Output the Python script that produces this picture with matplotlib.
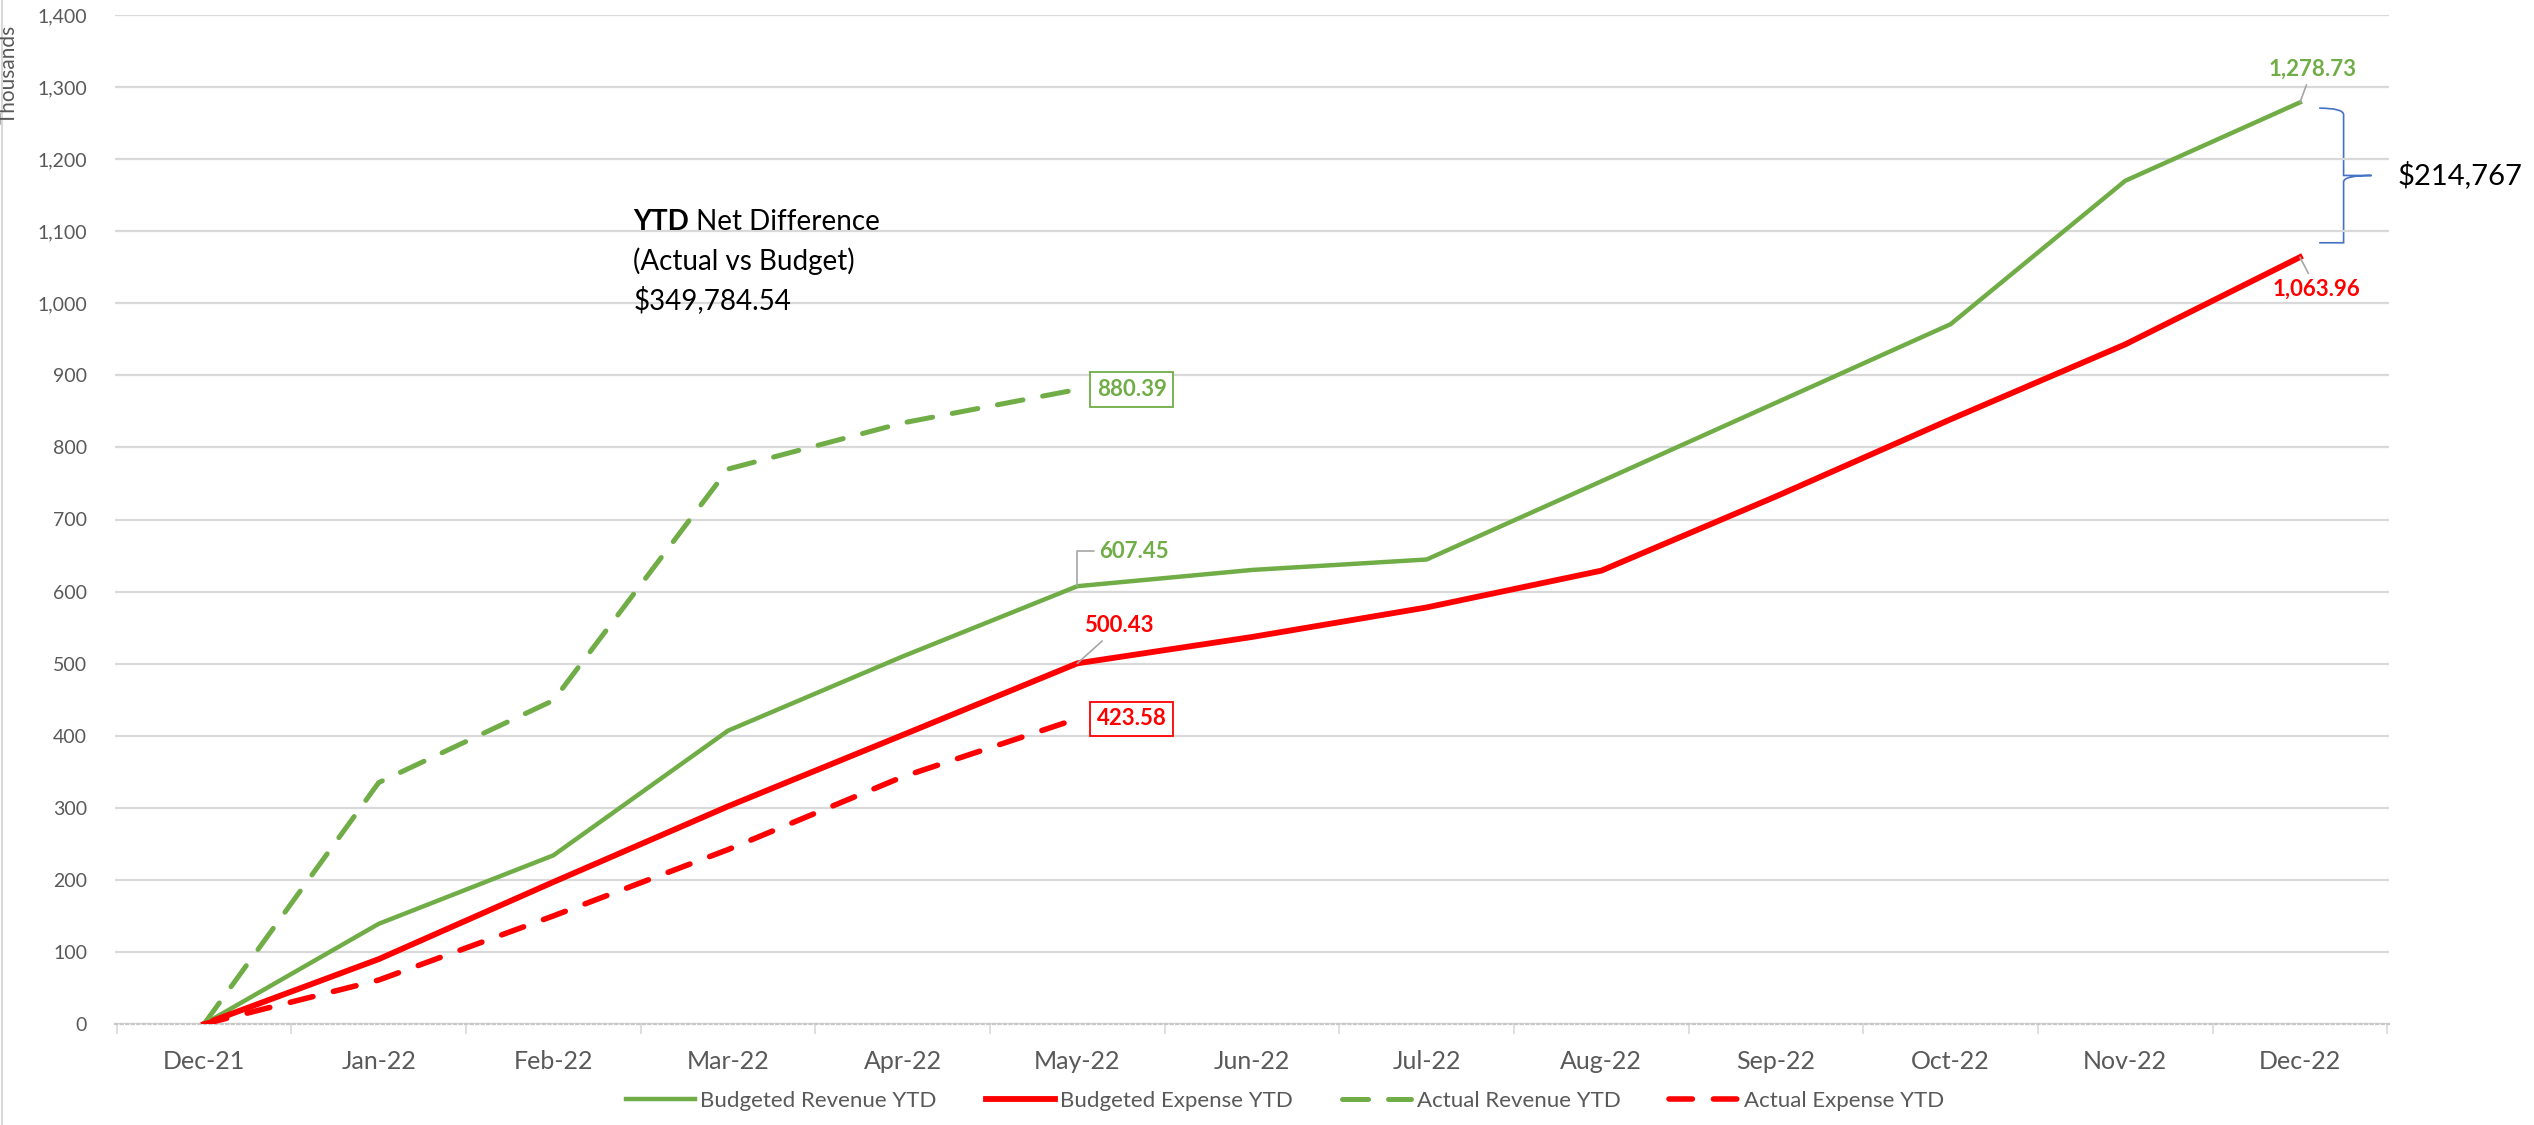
import matplotlib
matplotlib.use("Agg")
import matplotlib.pyplot as plt
from matplotlib.path import Path
from matplotlib.patches import PathPatch
from matplotlib.lines import Line2D
from matplotlib.ticker import FuncFormatter, FixedLocator

plt.rcParams["font.family"] = ["Lato", "DejaVu Sans"]

# ── data (thousands) ──────────────────────────────────────────────────────────
months = ["Dec-21", "Jan-22", "Feb-22", "Mar-22", "Apr-22", "May-22", "Jun-22",
          "Jul-22", "Aug-22", "Sep-22", "Oct-22", "Nov-22", "Dec-22"]

budget_rev = [0, 139, 234, 407, 510, 607.45, 630, 644.5, 753, 862, 971, 1170, 1278.73]
budget_exp = [0, 90, 197, 302, 401, 500.43, 537, 578, 629, 732, 839, 943, 1063.96]
actual_rev = [0, 335, 449, 770, 834, 880.39]
actual_exp = [0, 61, 150, 242, 343, 423.58]

ytd_net_diff = "$349,784.54"
year_end_gap = "$214,767"

GREEN = "#70AD47"
RED = "#FF0000"
GREY_TXT = "#595959"
GRID = "#D9D9D9"
LEADER = "#A6A6A6"

W, H = 2534, 1125
fig = plt.figure(figsize=(W / 100, H / 100), dpi=100)
ax = fig.add_axes([115 / W, 1 - 1024 / H, (2389 - 115) / W, (1024 - 15) / H])

x_all = list(range(len(months)))
x_act = list(range(len(actual_rev)))

ax.plot(x_all, budget_rev, color=GREEN, lw=3.2, label="Budgeted Revenue YTD",
        solid_joinstyle="round", zorder=3)
ax.plot(x_all, budget_exp, color=RED, lw=4.2, label="Budgeted Expense YTD",
        solid_joinstyle="round", zorder=3)
ax.plot(x_act, actual_rev, color=GREEN, lw=3.6, ls=(0, (5.2, 4.0)),
        dash_capstyle="round", label="Actual Revenue YTD", zorder=3)
ax.plot(x_act, actual_exp, color=RED, lw=4.0, ls=(0, (4.2, 3.8)),
        dash_capstyle="round", label="Actual Expense YTD", zorder=3)

# ── axes styling ──────────────────────────────────────────────────────────────
ax.set_xlim(-0.51, len(months) - 0.49)
ax.set_ylim(0, 1400)
ax.set_yticks(range(0, 1401, 100))
ax.yaxis.set_major_formatter(FuncFormatter(lambda v, p: f"{int(v):,}"))
ax.set_xticks(x_all)
ax.set_xticklabels(months)
ax.xaxis.set_minor_locator(FixedLocator([i + 0.5 for i in range(-1, len(months))]))
ax.tick_params(axis="both", which="major", length=0, labelcolor=GREY_TXT)
ax.tick_params(axis="y", pad=20, labelsize=14)
ax.tick_params(axis="x", pad=19, labelsize=18)
ax.tick_params(axis="x", which="minor", length=7, color=GRID, width=1.2)
ax.grid(True, axis="y", color=GRID, lw=1.6, zorder=0)
for s in ["top", "right", "left"]:
    ax.spines[s].set_visible(False)
ax.spines["bottom"].set_color("#C8C8C8")
ax.spines["bottom"].set_linewidth(1.6)
ax.spines["bottom"].set_linestyle((0, (1, 1.5)))

fig.text(9 / W, 1 - 25 / H, "Thousands", rotation=90, ha="center", va="top",
         fontsize=15, color=GREY_TXT)
fig.add_artist(Line2D([0.0006, 0.0006], [0, 1], color=GRID, lw=1.5))

# ── data labels ───────────────────────────────────────────────────────────────
last = len(months) - 1
may = len(actual_rev) - 1
lead = dict(arrowstyle="-", color=LEADER, lw=1.2, shrinkA=2, shrinkB=0)
lbl = dict(textcoords="offset points", fontsize=16, fontweight="bold")

ax.annotate(f"{budget_rev[last]:,.2f}", xy=(last, budget_rev[last]), xytext=(9, 24),
            ha="center", va="center", color=GREEN, arrowprops=lead,
            annotation_clip=False, **lbl)
ax.annotate(f"{budget_exp[last]:,.2f}", xy=(last, budget_exp[last]), xytext=(12, -23),
            ha="center", va="center", color=RED, arrowprops=lead,
            annotation_clip=False, **lbl)
ax.annotate(f"{budget_rev[may]:,.2f}", xy=(may, budget_rev[may]), xytext=(16, 25),
            ha="left", va="center", color=GREEN,
            arrowprops=dict(lead, connectionstyle="angle,angleA=0,angleB=90,rad=0"), **lbl)
ax.annotate(f"{budget_exp[may]:,.2f}", xy=(may, budget_exp[may]), xytext=(30, 27),
            ha="center", va="center", color=RED, arrowprops=lead, **lbl)
ax.annotate(f"{actual_rev[may]:,.2f}", xy=(may, actual_rev[may]), xytext=(14, 0),
            ha="left", va="center", color=GREEN,
            bbox=dict(boxstyle="square,pad=0.3", fc="white", ec=GREEN, lw=1.3), **lbl)
ax.annotate(f"{actual_exp[may]:,.2f}", xy=(may, actual_exp[may]), xytext=(14, 0),
            ha="left", va="center", color=RED,
            bbox=dict(boxstyle="square,pad=0.3", fc="white", ec=RED, lw=1.3), **lbl)

# ── brace showing year-end gap ────────────────────────────────────────────────
top = budget_rev[last] - 8
bot = budget_exp[last] + 20
mid = (top + bot) / 2
x0, x1, x2 = last + 0.11, last + 0.25, last + 0.41
verts = [(x0, top), (x1, top), (x1, top - 9), (x1, top - 9),
         (x1, mid + 9), (x1, mid + 9), (x1, mid), (x2, mid),
         (x1, mid), (x1, mid - 9), (x1, mid - 9),
         (x1, bot + 9), (x1, bot + 9), (x1, bot), (x0, bot)]
codes = [Path.MOVETO, Path.CURVE3, Path.CURVE3, Path.LINETO,
         Path.LINETO, Path.CURVE3, Path.CURVE3, Path.LINETO,
         Path.CURVE3, Path.CURVE3, Path.LINETO,
         Path.LINETO, Path.CURVE3, Path.CURVE3, Path.LINETO]
ax.add_patch(PathPatch(Path(verts, codes), fc="none", ec="#4472C4", lw=1.2, clip_on=False))
ax.text(last + 0.56, mid, year_end_gap, ha="left", va="center", fontsize=21,
        color="black", clip_on=False)

# ── YTD net difference note ───────────────────────────────────────────────────
t1 = ax.text(2.458, 1113, "YTD", ha="left", va="center", fontsize=20, fontweight="bold")
ax.annotate(" Net Difference", xy=(1, 0), xycoords=t1, ha="left", va="bottom", fontsize=20)
ax.text(2.458, 1059, "(Actual vs Budget)", ha="left", va="center", fontsize=20)
ax.text(2.458, 1004, ytd_net_diff, ha="left", va="center", fontsize=20)

# ── legend ────────────────────────────────────────────────────────────────────
fig.legend(loc="center", bbox_to_anchor=(1285 / W, 1 - 1101 / H), ncol=4, frameon=False,
           fontsize=16, labelcolor=GREY_TXT, handlelength=3.1, handletextpad=0.25,
           columnspacing=2.2)

fig.savefig("out.png", dpi=100)
